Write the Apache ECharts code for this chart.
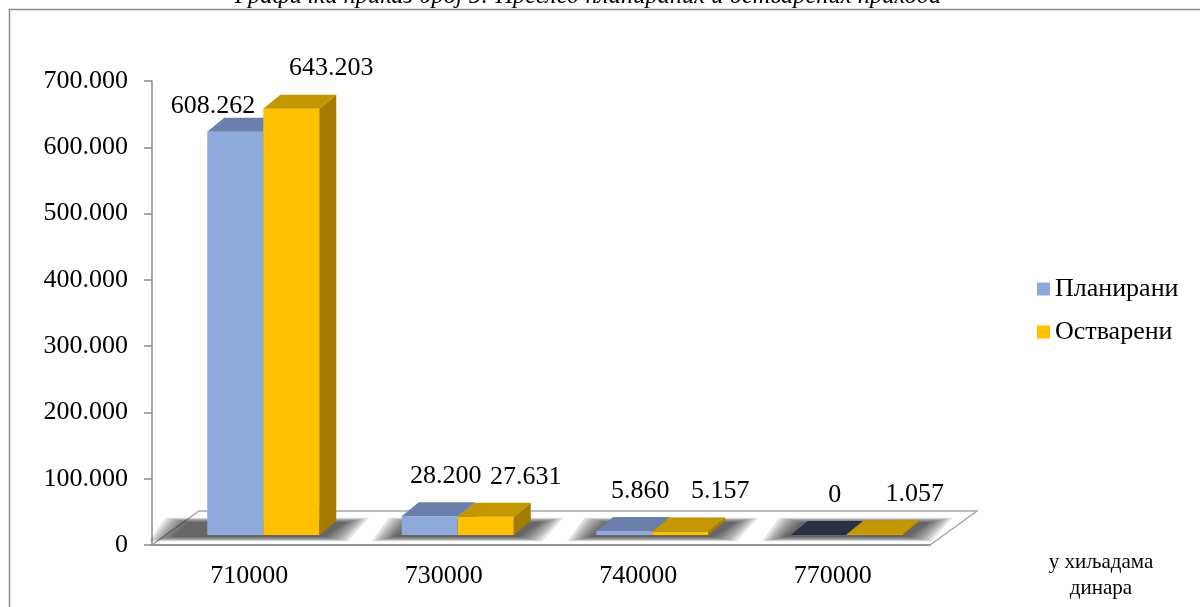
<!DOCTYPE html>
<html>
<head>
<meta charset="utf-8">
<title>Преглед планираних и остварених прихода</title>
<script src="https://cdn.jsdelivr.net/npm/echarts@6/dist/echarts.min.js"></script>
<style>
  html, body { margin: 0; padding: 0; background: #fff; }
  #main { width: 1200px; height: 607px; }
</style>
</head>
<body>
<div id="main"></div>
<script>
var categories = ['710000', '730000', '740000', '770000'];
var seriesNames = ['Планирани', 'Остварени'];
var planned = [608262, 28200, 5860, 0];
var realized = [643203, 27631, 5157, 1057];
var yTicks = [0, 100000, 200000, 300000, 400000, 500000, 600000, 700000];

var FONT = '"Liberation Serif", "Times New Roman", serif';
var DX = 17, DY = -14;      // bar depth
var LIFT = 10;              // bars stand a bit behind the floor's front edge
var front = ['#8eaadb', '#ffc000'];
var topC = ['#6a7fab', '#c49600'];
var sideC = ['#5f7399', '#a67c00'];

function fmt(v) {
    return String(v).replace(/\B(?=(\d{3})+(?!\d))/g, '.');
}

var myChart = echarts.init(document.getElementById('main'));

function barGeom(api, cat, v, s) {
    var base = api.coord([cat, 0]);
    var top = api.coord([cat, v]);
    var band = api.size([1, 0])[0];
    var w = band * 0.288;
    var cx = base[0] + band * 0.072;
    var x0 = cx - w + s * w;
    return { x0: x0, x1: x0 + w, yb: base[1] - LIFT, yt: top[1] - LIFT };
}

function makeRender(s) {
    return function (params, api) {
        var cat = api.value(0), v = api.value(1);
        var g = barGeom(api, cat, v, s);
        var children = [];
        if (g.yb - g.yt > 0.3) {
            children.push({
                type: 'rect',
                shape: { x: g.x0, y: g.yt, width: g.x1 - g.x0, height: g.yb - g.yt },
                style: { fill: front[s] }
            });
            children.push({
                type: 'polygon',
                shape: { points: [[g.x1, g.yt], [g.x1 + DX, g.yt + DY], [g.x1 + DX, g.yb + DY], [g.x1, g.yb]] },
                style: { fill: sideC[s] }
            });
        }
        children.push({
            type: 'polygon',
            shape: { points: [[g.x0, g.yt], [g.x0 + DX, g.yt + DY], [g.x1 + DX, g.yt + DY], [g.x1, g.yt]] },
            style: { fill: v === 0 ? '#293142' : topC[s] }
        });

        // data label, moved aside when the neighbour bar is taller
        var lx = (g.x0 + g.x1) / 2 + (s === 0 ? 16 : 40);
        var ly = g.yt + DY - 26;
        var align = 'center';
        if (s === 0) {
            var other = barGeom(api, cat, realized[cat], 1);
            if (other.yt + DY < ly + 14) {
                align = 'right';
                lx = g.x1 - 8;
                ly = g.yt + DY - 12;
            }
        }
        children.push({
            type: 'text',
            style: {
                text: fmt(v), x: lx, y: ly, align: align, verticalAlign: 'middle',
                font: '26px ' + FONT, fill: '#000'
            },
            z2: 10
        });
        return { type: 'group', children: children };
    };
}

// soft floor shadow: stacked translucent layers, widest first
function renderShadow(params, api) {
    var cat = api.value(0);
    var a = barGeom(api, cat, 0, 0);
    var b = barGeom(api, cat, 0, 1);
    var h = barGeom(api, cat, Math.max(planned[cat], realized[cat]), 0);
    var reach = Math.min(30, (a.yb - h.yt) / 12);
    var l = a.x0 - 6 - reach, r = b.x1 + 6;
    var yf = a.yb + 2, yk = a.yb + DY + 1;
    var children = [];
    for (var k = 7; k >= 0; k--) {
        var e = k * 3.2, ev = k * 0.6;
        children.push({
            type: 'polygon',
            shape: { points: [[l - e, yf + ev], [r + e, yf + ev], [r + DX + 4 + e, yk - ev], [l + DX - e, yk - ev]] },
            style: { fill: 'rgba(30,30,30,0.13)' }
        });
    }
    return { type: 'group', children: children };
}

var gl = 152, gr = 930, gy = 545, fdx = 47, fdy = -34;

option = {
    animation: false,
    textStyle: { fontFamily: FONT },
    grid: { left: 152, right: 270, top: 81, bottom: 62, containLabel: false },
    legend: {
        data: seriesNames,
        orient: 'vertical',
        left: 1037,
        top: 276,
        icon: 'rect',
        itemWidth: 13,
        itemHeight: 13,
        itemGap: 17,
        padding: 0,
        textStyle: { fontSize: 26, fontFamily: FONT, color: '#000' }
    },
    graphic: [
        {
            type: 'rect', z: -10,
            shape: { x: 9.5, y: 9.5, width: 1210, height: 620 },
            style: { fill: 'none', stroke: '#8c8c8c', lineWidth: 1.5 }
        },
        {
            type: 'text', z: -5,
            style: {
                text: 'Графички приказ број 5: Преглед планираних и остварених прихода',
                x: 588, y: 9, align: 'center', verticalAlign: 'bottom',
                font: 'italic 24.5px ' + FONT, fill: '#000'
            }
        },
        {
            type: 'polygon', z: 0,
            shape: { points: [[gl, gy], [gr, gy], [gr + fdx, gy + fdy], [gl + fdx, gy + fdy]] },
            style: { fill: '#fff', stroke: '#a6a6a6', lineWidth: 1.5 }
        },
        {
            type: 'text',
            style: {
                text: 'у хиљадама\nдинара', x: 1101, y: 549, align: 'center',
                font: '21px ' + FONT, fill: '#000', lineHeight: 26
            }
        }
    ],
    xAxis: {
        type: 'category',
        data: categories,
        axisLine: { lineStyle: { color: '#8c8c8c', width: 1.5 } },
        axisTick: { length: 7, lineStyle: { color: '#8c8c8c', width: 1.5 } },
        axisLabel: { margin: 18, fontSize: 26, fontFamily: FONT, color: '#000' },
        splitLine: { show: false }
    },
    yAxis: {
        type: 'value',
        min: yTicks[0],
        max: yTicks[yTicks.length - 1],
        interval: yTicks[1] - yTicks[0],
        axisLine: { show: true, lineStyle: { color: '#8c8c8c', width: 1.5 } },
        axisTick: { show: true, length: 8, lineStyle: { color: '#8c8c8c', width: 1.5 } },
        axisLabel: { margin: 24, fontSize: 26, fontFamily: FONT, color: '#000', formatter: fmt },
        splitLine: { show: false }
    },
    series: [
        {
            type: 'custom',
            name: 'shadow',
            silent: true,
            renderItem: renderShadow,
            data: categories.map(function (c, i) { return [i]; }),
            z: 1
        },
        {
            type: 'custom',
            name: seriesNames[0],
            itemStyle: { color: front[0] },
            renderItem: makeRender(0),
            data: planned.map(function (v, i) { return [i, v]; }),
            z: 3
        },
        {
            type: 'custom',
            name: seriesNames[1],
            itemStyle: { color: front[1] },
            renderItem: makeRender(1),
            data: realized.map(function (v, i) { return [i, v]; }),
            z: 4
        }
    ]
};

myChart.setOption(option);
</script>
</body>
</html>
